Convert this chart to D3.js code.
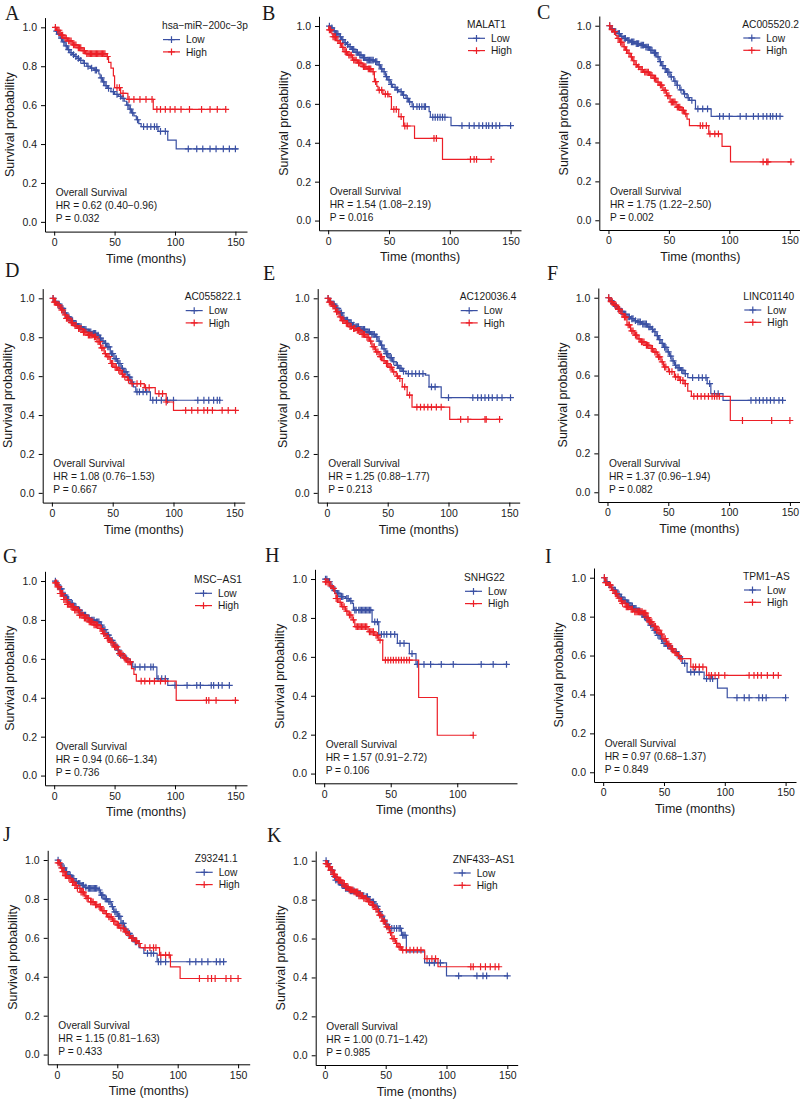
<!DOCTYPE html>
<html>
<head>
<meta charset="utf-8">
<script src="https://cdn.jsdelivr.net/npm/d3@7"></script>
<style>
  body { margin: 0; background: #fff; }
  svg text { font-family: "Liberation Sans", Arial, sans-serif; fill: #1a1a1a; }
  .letter { font-family: "Liberation Serif", "Times New Roman", serif; font-size: 20px; }
</style>
</head>
<body>
<svg id="chart" width="800" height="1100"></svg>
<script>
// ---- data ----
var letters = ['A', 'B', 'C', 'D', 'E', 'F', 'G', 'H', 'I', 'J', 'K'];
var genes = ['hsa\u2212miR\u2212200c\u22123p', 'MALAT1', 'AC005520.2', 'AC055822.1', 'AC120036.4',
  'LINC01140', 'MSC\u2212AS1', 'SNHG22', 'TPM1\u2212AS', 'Z93241.1', 'ZNF433\u2212AS1'];
var hrLabels = ['HR = 0.62 (0.40\u22120.96)', 'HR = 1.54 (1.08\u22122.19)', 'HR = 1.75 (1.22\u22122.50)',
  'HR = 1.08 (0.76\u22121.53)', 'HR = 1.25 (0.88\u22121.77)', 'HR = 1.37 (0.96\u22121.94)',
  'HR = 0.94 (0.66\u22121.34)', 'HR = 1.57 (0.91\u22122.72)', 'HR = 0.97 (0.68\u22121.37)',
  'HR = 1.15 (0.81\u22121.63)', 'HR = 1.00 (0.71\u22121.42)'];
var pLabels = ['P = 0.032', 'P = 0.016', 'P = 0.002', 'P = 0.667', 'P = 0.213', 'P = 0.082',
  'P = 0.736', 'P = 0.106', 'P = 0.849', 'P = 0.433', 'P = 0.985'];
var groups = ['Low', 'High'];
var xTicks = [0, 50, 100, 150];
var yTicks = [0, 0.2, 0.4, 0.6, 0.8, 1.0];

// step curves: [time, survival after step]; censor times
var lowA = [[0,1],[1,0.98],[3,0.965],[5,0.945],[7,0.925],[9,0.905],[11,0.885],[13,0.87],[15,0.86],[17,0.85],[19,0.84],[21,0.83],[24,0.815],[27,0.80],[30,0.79],[33,0.78],[36,0.775],[37,0.76],[38,0.74],[40,0.72],[42,0.70],[44,0.686],[47,0.67],[50,0.655],[53,0.645],[56,0.635],[58,0.62],[60,0.60],[62,0.58],[64,0.56],[66,0.545],[68,0.525],[70,0.505],[72,0.49],[86,0.465],[94,0.42],[101,0.375],[152,0.375]];
var highA = [[0,1],[2,0.985],[5,0.96],[8,0.945],[11,0.93],[15,0.91],[19,0.895],[23,0.88],[26,0.865],[43,0.85],[45,0.82],[47,0.79],[49,0.75],[50,0.69],[55,0.66],[61,0.63],[82,0.578],[142,0.578]];
var censLowA = [2,4,6,8,10,12,14,16,18,20,22,25,28,31,34,35,39,41,43,45,49,52,55,57,61,63,65,69,74,77,80,83,85,88,92,111,118,123,129,134,140,145,150];
var censHighA = [1,3,4,6,7,9,10,12,13,14,16,17,18,20,21,22,24,25,27,28,29,30,31,32,33,34,35,36,37,38,39,40,41,42,44,52,54,57,62,66,71,76,81,85,88,92,96,100,105,112,122,129,135,142];

var lowB = [[0,1],[2,0.99],[4,0.975],[6,0.96],[9,0.945],[11,0.93],[13,0.915],[15,0.905],[17,0.894],[19,0.88],[22,0.865],[25,0.851],[28,0.838],[31,0.825],[38,0.817],[41,0.80],[43,0.78],[45,0.765],[47,0.74],[49,0.723],[51,0.70],[53,0.685],[56,0.672],[58,0.663],[61,0.645],[64,0.628],[66,0.61],[69,0.586],[83,0.56],[84,0.531],[101,0.488],[151,0.488]];
var highB = [[0,1],[0.5,0.98],[3,0.96],[4,0.945],[7,0.925],[9,0.911],[11,0.89],[13,0.868],[16,0.85],[20,0.825],[24,0.81],[28,0.791],[32,0.78],[36,0.765],[38,0.714],[40,0.69],[41,0.671],[45,0.65],[50,0.637],[52,0.572],[58,0.534],[62,0.486],[71,0.423],[94,0.315],[134,0.315]];
var censLowB = [1,3,5,7,8,10,12,14,16,18,20,21,23,24,26,27,29,30,32,33,34,35,36,37,39,40,42,44,46,48,50,52,55,57,60,62,65,67,70,73,75,77,79,80,86,88,90,92,94,96,110,116,120,124,127,130,132,135,138,141,150];
var censHighB = [1,2,4,5,6,8,10,12,14,15,17,18,19,21,22,23,25,26,27,29,30,31,33,34,35,37,39,42,44,47,49,54,56,60,63,65,87,89,117,120,122,134];

var lowC = [[0,1],[2,0.985],[4,0.97],[7,0.96],[10,0.945],[12,0.935],[15,0.925],[18,0.917],[22,0.908],[26,0.90],[30,0.89],[34,0.874],[37,0.86],[40,0.84],[42,0.815],[44,0.795],[46,0.78],[48,0.76],[51,0.737],[54,0.715],[56,0.694],[59,0.67],[62,0.65],[65,0.63],[67,0.616],[72,0.573],[85,0.534],[144,0.534]];
var highC = [[0,1],[2,0.98],[4,0.97],[6,0.95],[7,0.935],[9,0.915],[12,0.892],[14,0.875],[16,0.858],[18,0.84],[20,0.82],[22,0.80],[24,0.788],[26,0.775],[29,0.762],[34,0.745],[37,0.73],[40,0.71],[42,0.695],[45,0.668],[48,0.64],[51,0.608],[56,0.582],[60,0.565],[63,0.547],[65,0.52],[67,0.487],[83,0.444],[94,0.38],[101,0.30],[152,0.30]];
var censLowC = [1,3,5,6,8,9,11,13,14,16,17,19,20,21,23,24,25,27,28,29,31,32,33,35,36,38,39,41,43,45,47,49,50,52,55,57,60,63,66,69,74,78,82,92,95,100,109,114,120,124,128,131,134,136,139,142];
var censHighC = [1,3,5,8,10,11,13,15,17,19,21,23,25,27,28,30,31,32,33,35,36,38,39,41,43,44,46,47,49,50,52,53,54,55,57,58,59,61,62,64,76,78,81,84,88,91,128,131,132,151];

var lowD = [[0,1],[2,0.985],[4,0.97],[7,0.948],[10,0.925],[12,0.905],[15,0.885],[18,0.87],[21,0.854],[25,0.84],[29,0.828],[33,0.82],[37,0.811],[39,0.795],[41,0.78],[43,0.768],[45,0.75],[48,0.716],[51,0.69],[54,0.665],[57,0.64],[59,0.622],[62,0.595],[65,0.57],[67,0.545],[69,0.519],[81,0.476],[139,0.476]];
var highD = [[0,1],[2,0.98],[4,0.965],[7,0.94],[10,0.915],[12,0.897],[15,0.875],[18,0.86],[21,0.845],[25,0.825],[29,0.811],[34,0.802],[37,0.777],[40,0.745],[43,0.716],[45,0.70],[48,0.665],[51,0.645],[54,0.63],[57,0.61],[59,0.596],[62,0.58],[65,0.562],[76,0.541],[85,0.51],[94,0.467],[100,0.424],[151,0.424]];
var censLowD = [1,3,5,6,8,9,11,13,14,16,17,19,20,22,23,24,26,27,28,30,31,32,34,35,36,38,40,42,44,46,47,49,50,52,53,55,56,58,60,61,63,64,66,70,72,75,78,83,86,90,95,100,120,125,129,133,136,138];
var censHighD = [1,2,3,5,6,8,9,11,12,13,14,16,17,19,20,22,23,24,26,27,28,30,31,32,33,35,36,38,39,41,42,44,46,47,49,50,52,53,55,56,58,60,63,66,70,73,77,80,88,91,94,110,115,120,125,128,132,140,145,151];

var lowE = [[0,1],[2,0.985],[4,0.97],[7,0.948],[10,0.925],[13,0.9],[15,0.888],[18,0.875],[21,0.862],[23,0.854],[27,0.84],[32,0.828],[36,0.815],[40,0.802],[42,0.78],[44,0.759],[46,0.74],[48,0.716],[51,0.695],[54,0.674],[57,0.655],[59,0.64],[62,0.625],[65,0.613],[81,0.605],[84,0.545],[94,0.49],[151,0.49]];
var highE = [[0,1],[2,0.98],[4,0.96],[7,0.931],[10,0.905],[12,0.885],[15,0.871],[18,0.855],[21,0.845],[24,0.835],[28,0.815],[32,0.80],[35,0.78],[37,0.751],[40,0.725],[43,0.70],[46,0.68],[48,0.665],[51,0.645],[54,0.622],[57,0.60],[59,0.588],[62,0.545],[66,0.502],[70,0.441],[101,0.378],[143,0.378]];
var censLowE = [1,3,5,6,8,9,11,12,14,16,17,19,20,22,24,25,26,28,29,30,31,33,34,35,37,38,39,41,43,45,47,49,50,52,53,55,58,60,61,63,67,70,73,76,79,86,89,100,120,124,127,130,133,136,140,144,151];
var censHighE = [1,2,3,5,6,8,9,11,13,14,16,17,19,20,22,23,25,26,27,29,30,31,33,34,36,38,39,41,42,44,45,47,49,50,52,53,55,58,60,64,68,74,77,80,83,86,90,94,110,116,130,131,142];

var lowF = [[0,1],[2,0.985],[4,0.97],[6,0.955],[8,0.945],[10,0.93],[13,0.915],[16,0.902],[19,0.892],[22,0.882],[24,0.876],[28,0.865],[33,0.85],[36,0.838],[38,0.825],[40,0.805],[42,0.785],[44,0.765],[46,0.745],[49,0.722],[51,0.70],[53,0.675],[55,0.653],[57,0.64],[60,0.627],[63,0.61],[66,0.589],[82,0.558],[85,0.507],[95,0.472],[145,0.472]];
var highF = [[0,1],[2,0.98],[5,0.962],[8,0.94],[11,0.919],[13,0.9],[16,0.86],[19,0.83],[22,0.808],[25,0.788],[27,0.773],[31,0.755],[35,0.739],[38,0.72],[41,0.696],[44,0.67],[46,0.644],[50,0.62],[55,0.593],[59,0.575],[63,0.558],[66,0.52],[69,0.493],[101,0.369],[151,0.369]];
var censLowF = [1,3,5,7,9,11,12,14,15,17,18,20,21,23,25,26,27,29,30,31,32,34,35,37,39,41,43,45,47,48,50,52,54,56,58,59,61,62,64,70,75,78,81,84,88,91,118,122,125,128,131,134,137,141,144];
var censHighF = [1,3,4,6,7,9,10,12,14,15,17,18,20,21,23,24,26,28,29,30,32,33,34,36,37,39,40,42,43,45,47,48,51,53,56,58,60,62,64,71,74,77,80,83,86,88,90,92,111,135,150];

var lowG = [[0,1],[2,0.98],[4,0.96],[7,0.928],[10,0.905],[13,0.885],[16,0.868],[19,0.85],[22,0.835],[24,0.825],[27,0.81],[30,0.799],[34,0.79],[38,0.773],[40,0.75],[43,0.722],[46,0.695],[49,0.67],[52,0.645],[54,0.619],[58,0.60],[61,0.584],[65,0.558],[85,0.498],[94,0.464],[145,0.464]];
var highG = [[0,1],[1,0.99],[3,0.97],[5,0.936],[8,0.905],[11,0.88],[14,0.868],[17,0.85],[21,0.825],[25,0.81],[29,0.79],[33,0.775],[37,0.756],[40,0.73],[43,0.705],[46,0.685],[49,0.662],[53,0.627],[57,0.605],[60,0.584],[64,0.55],[66,0.52],[68,0.485],[101,0.387],[152,0.387]];
var censLowG = [1,3,5,6,8,9,11,12,14,15,17,18,20,21,23,25,26,28,29,31,32,33,35,36,37,39,41,42,44,45,47,48,50,51,53,55,57,60,63,67,71,75,80,82,86,89,92,100,110,118,121,130,132,136,139,145];
var censHighG = [1,2,3,4,5,6,7,8,9,10,11,12,13,14,15,16,17,18,19,20,21,22,23,24,25,26,27,28,29,30,31,32,33,34,35,36,38,39,41,42,44,45,47,48,50,51,52,54,55,56,58,59,61,62,63,72,75,79,83,88,92,126,128,134,150];

var lowH = [[0,1],[3,0.986],[5,0.96],[7,0.94],[9,0.926],[12,0.91],[16,0.9],[19,0.888],[21,0.875],[22,0.84],[36,0.78],[41,0.715],[55,0.669],[64,0.617],[69,0.561],[138,0.561]];
var highH = [[0,1],[1,0.985],[4,0.965],[6,0.952],[8,0.925],[9,0.9],[11,0.88],[13,0.858],[16,0.835],[18,0.815],[21,0.79],[23,0.755],[33,0.729],[38,0.71],[41,0.686],[44,0.583],[71,0.391],[85,0.197],[112,0.197]];
var censLowH = [1,2,4,6,8,10,11,13,14,17,18,20,23,24,26,27,28,29,30,31,32,33,34,35,38,40,43,45,47,50,53,57,60,66,70,75,80,88,97,118,127,137];
var censHighH = [1,2,3,5,7,9,10,12,14,15,17,19,20,22,24,25,26,27,28,29,30,31,32,34,35,36,37,39,40,42,46,48,50,52,54,56,58,60,62,64,112];

var lowI = [[0,1],[2,0.98],[4,0.965],[6,0.95],[8,0.936],[11,0.915],[14,0.9],[16,0.885],[19,0.87],[22,0.855],[25,0.842],[28,0.83],[31,0.81],[33,0.799],[36,0.78],[38,0.756],[41,0.73],[44,0.704],[47,0.685],[49,0.662],[52,0.65],[55,0.636],[58,0.62],[62,0.593],[65,0.56],[69,0.515],[83,0.481],[94,0.433],[102,0.383],[151,0.383]];
var highI = [[0,1],[2,0.975],[4,0.962],[7,0.935],[9,0.919],[12,0.895],[14,0.88],[16,0.868],[19,0.85],[22,0.838],[25,0.825],[33,0.818],[36,0.795],[38,0.773],[41,0.75],[44,0.73],[47,0.71],[49,0.687],[52,0.66],[55,0.636],[58,0.615],[61,0.6],[63,0.584],[72,0.541],[85,0.498],[144,0.498]];
var censLowI = [1,3,5,7,9,10,12,13,15,17,18,20,21,23,24,26,27,29,30,32,34,35,37,39,40,42,43,45,46,48,50,51,53,54,56,57,60,63,67,72,75,79,85,88,90,110,116,120,128,131,134,150];
var censHighI = [1,2,3,5,6,8,10,11,13,15,16,18,19,20,21,23,24,26,27,28,29,30,31,32,33,34,35,36,37,38,39,40,42,43,44,45,46,48,50,51,53,54,56,57,59,60,62,64,74,76,79,82,87,89,92,95,100,120,124,127,130,135,140,144];

var lowJ = [[0,1],[2,0.98],[4,0.96],[7,0.94],[9,0.923],[12,0.905],[15,0.89],[17,0.88],[20,0.87],[23,0.86],[25,0.854],[34,0.846],[36,0.82],[39,0.8],[42,0.786],[45,0.76],[47,0.734],[50,0.71],[53,0.674],[56,0.645],[58,0.623],[61,0.6],[64,0.58],[68,0.55],[72,0.52],[83,0.477],[140,0.477]];
var highJ = [[0,1],[1,0.985],[3,0.96],[5,0.94],[7,0.92],[9,0.906],[12,0.885],[15,0.87],[17,0.854],[20,0.835],[23,0.815],[25,0.803],[28,0.785],[31,0.77],[34,0.76],[37,0.74],[40,0.725],[42,0.708],[46,0.685],[49,0.666],[52,0.65],[56,0.631],[59,0.612],[61,0.597],[64,0.585],[67,0.571],[69,0.55],[85,0.511],[94,0.451],[102,0.391],[152,0.391]];
var censLowJ = [1,3,5,6,8,10,11,13,14,16,18,19,21,22,24,26,27,28,29,30,31,32,33,35,37,38,40,41,43,44,46,48,49,51,52,54,55,57,59,60,62,63,65,66,75,78,80,84,86,90,110,115,120,125,132,135,138];
var censHighJ = [1,2,4,5,6,7,8,10,11,13,14,15,16,17,19,20,21,22,24,25,26,28,29,30,32,33,35,36,38,39,41,43,44,45,47,48,50,51,53,55,57,58,60,62,63,65,66,68,73,77,80,82,86,90,93,118,125,128,131,140,144,150];

var lowK = [[0,1],[2,0.985],[4,0.965],[5,0.952],[7,0.92],[9,0.9],[10,0.892],[13,0.875],[16,0.858],[20,0.845],[25,0.832],[30,0.82],[33,0.815],[36,0.8],[38,0.789],[41,0.765],[44,0.738],[46,0.715],[48,0.695],[50,0.673],[52,0.652],[63,0.617],[67,0.532],[82,0.475],[100,0.408],[151,0.408]];
var highK = [[0,1],[1,0.985],[3,0.97],[5,0.95],[7,0.93],[9,0.915],[11,0.9],[14,0.883],[17,0.865],[20,0.85],[24,0.84],[28,0.82],[32,0.806],[35,0.79],[38,0.772],[41,0.75],[44,0.72],[47,0.69],[50,0.66],[53,0.63],[55,0.6],[58,0.575],[60,0.557],[63,0.54],[82,0.497],[93,0.455],[144,0.455]];
var censLowK = [1,2,3,5,6,8,9,11,12,14,15,17,18,19,21,22,23,24,26,27,28,29,31,32,34,35,37,39,40,42,43,45,47,49,51,53,55,57,59,61,62,64,65,66,86,90,95,110,125,130,133,150];
var censHighK = [1,2,3,4,5,6,7,8,9,10,11,12,13,14,15,16,17,18,19,20,21,22,23,24,25,26,27,28,29,30,31,32,33,34,36,37,39,40,42,43,45,46,48,49,51,52,54,56,57,59,61,62,64,67,70,73,76,79,84,88,91,120,122,128,132,136,140,143];

// ---- layout: panel left / top, legend offset, letter position ----
var panelPos = [[45,17.6],[319,16.3],[599.3,16],[42.7,288.6],[317.7,288.6],[598.3,288],[45,571.3],[315,569.3],[594,568],[47.7,850.3],[315.7,851]];
var legendDx = [117,148,143,142,142,145,149,149,149,147,137];
var letterPos = [[5,20],[262,20],[537,19],[5,277],[263,280],[547,280],[3,563],[265,562],[545,563],[3,841],[267,842]];

var lows = [lowA, lowB, lowC, lowD, lowE, lowF, lowG, lowH, lowI, lowJ, lowK];
var highs = [highA, highB, highC, highD, highE, highF, highG, highH, highI, highJ, highK];
var censLows = [censLowA, censLowB, censLowC, censLowD, censLowE, censLowF, censLowG, censLowH, censLowI, censLowJ, censLowK];
var censHighs = [censHighA, censHighB, censHighC, censHighD, censHighE, censHighF, censHighG, censHighH, censHighI, censHighJ, censHighK];

var colors = { Low: '#3A50A3', High: '#EC1F27' };
var W = 202, H = 214;
var svg = d3.select('#chart');
var plusPath = 'M-3.4,0H3.4M0,-3.4V3.4';

// value of a step curve at time t
function survAt(curve, t) {
  var s = curve[0][1];
  for (var i = 0; i < curve.length; i++) {
    if (curve[i][0] <= t) s = curve[i][1];
  }
  return s;
}

function drawPanel(i) {
  var curves = { Low: lows[i], High: highs[i] };
  var cens = { Low: censLows[i], High: censHighs[i] };
  var xMax = d3.max([lows[i][lows[i].length - 1][0], highs[i][highs[i].length - 1][0]]);
  var x = d3.scaleLinear().domain([-0.05 * xMax, 1.05 * xMax]).range([0, W]);
  var y = d3.scaleLinear().domain([-0.05, 1.05]).range([H, 0]);

  var g = svg.append('g')
    .attr('transform', 'translate(' + panelPos[i][0] + ',' + panelPos[i][1] + ')');

  // axes
  var yAxis = g.append('g')
    .call(d3.axisLeft(y).tickValues(yTicks).tickFormat(d3.format('.1f'))
      .tickSize(4).tickPadding(4).tickSizeOuter(0));
  var xAxis = g.append('g')
    .attr('transform', 'translate(0,' + H + ')')
    .call(d3.axisBottom(x).tickValues(xTicks.filter(function (t) { return t <= xMax * 1.05; }))
      .tickSize(4).tickPadding(3).tickSizeOuter(0));
  [xAxis, yAxis].forEach(function (a) {
    a.attr('font-family', null).attr('font-size', null);
    a.selectAll('text').style('font-size', '10.5px').attr('fill', '#1a1a1a');
    a.selectAll('line, path').attr('stroke', '#000').attr('stroke-width', 1);
  });

  // curves and censor marks
  var line = d3.line()
    .curve(d3.curveStepAfter)
    .x(function (d) { return x(d[0]); })
    .y(function (d) { return y(d[1]); });
  groups.forEach(function (grp) {
    g.append('path')
      .datum(curves[grp])
      .attr('d', line)
      .attr('fill', 'none')
      .attr('stroke', colors[grp])
      .attr('stroke-width', 1.2);
    g.selectAll('.cens-' + grp)
      .data(cens[grp])
      .enter()
      .append('path')
      .attr('class', 'cens-' + grp)
      .attr('d', plusPath)
      .attr('transform', function (t) { return 'translate(' + x(t) + ',' + y(survAt(curves[grp], t)) + ')'; })
      .attr('stroke', colors[grp])
      .attr('stroke-width', 1.2);
  });

  // legend
  var lx = legendDx[i];
  var leg = g.append('g').attr('transform', 'translate(' + lx + ',0)');
  leg.append('text').attr('x', 0).attr('y', 11.5).style('font-size', '10.2px').text(genes[i]);
  groups.forEach(function (grp, k) {
    var cy = 22 + k * 12.3;
    leg.append('line').attr('x1', 1).attr('x2', 18).attr('y1', cy).attr('y2', cy)
      .attr('stroke', colors[grp]).attr('stroke-width', 1.2);
    leg.append('path').attr('d', plusPath).attr('transform', 'translate(9.5,' + cy + ')')
      .attr('stroke', colors[grp]).attr('stroke-width', 1.2);
    leg.append('text').attr('x', 24).attr('y', cy + 3.7).style('font-size', '10.2px').text(grp);
  });

  // annotation
  var ax = x(0) + 1.5, ay = y(0);
  g.append('text').attr('x', ax).attr('y', ay - 25.5).style('font-size', '10.2px').text('Overall Survival');
  g.append('text').attr('x', ax).attr('y', ay - 12.5).style('font-size', '10.2px').text(hrLabels[i]);
  g.append('text').attr('x', ax).attr('y', ay + 0.5).style('font-size', '10.2px').text(pLabels[i]);

  // axis titles
  g.append('text')
    .attr('x', W / 2).attr('y', H + 31)
    .attr('text-anchor', 'middle')
    .style('font-size', '12.5px')
    .text('Time (months)');
  g.append('text')
    .attr('transform', 'translate(-31,' + (H / 2) + ') rotate(-90)')
    .attr('text-anchor', 'middle')
    .style('font-size', '12.5px')
    .text('Survival probability');

  svg.append('text')
    .attr('class', 'letter')
    .attr('x', letterPos[i][0]).attr('y', letterPos[i][1])
    .text(letters[i]);
}

for (var i = 0; i < letters.length; i++) drawPanel(i);
</script>
</body>
</html>
